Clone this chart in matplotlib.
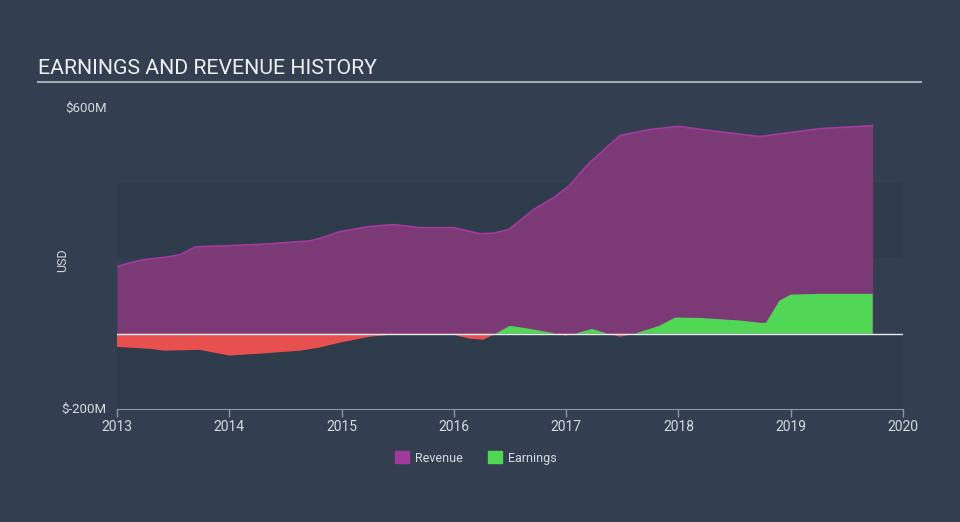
import matplotlib.pyplot as plt
from matplotlib.patches import Patch

plt.rcParams['font.family'] = ['Roboto', 'DejaVu Sans']

# data (year fraction, $M)
rev_x = [2013.0, 2013.12, 2013.25, 2013.47, 2013.56, 2013.7, 2014.0, 2014.36, 2014.72, 2014.8,
         2014.98, 2015.25, 2015.47, 2015.7, 2016.0, 2016.23, 2016.35, 2016.49, 2016.72, 2016.9,
         2017.03, 2017.2, 2017.48, 2017.75, 2018.0, 2018.28, 2018.72, 2019.0, 2019.26, 2019.73]
rev_y = [178, 189, 197, 205, 210, 231, 234, 239, 247, 253,
         271, 285, 290, 282, 282, 266, 267, 277, 332, 364,
         394, 452, 527, 543, 551, 540, 524, 535, 545, 553]

earn_x = [2013.0, 2013.29, 2013.42, 2013.74, 2014.0, 2014.27, 2014.63, 2014.8, 2014.98, 2015.25,
          2015.43, 2015.7, 2016.0, 2016.14, 2016.26, 2016.37, 2016.5, 2016.68, 2016.86, 2016.99,
          2017.08, 2017.23, 2017.37, 2017.48, 2017.61, 2017.83, 2017.97, 2018.2, 2018.55, 2018.73,
          2018.78, 2018.9, 2019.0, 2019.26, 2019.73]
earn_y = [-35, -40, -45, -43, -58, -53, -45, -37, -24, -8,
          -3, -3, -3, -13, -16, 0, 21, 13, 3, -5,
          0, 13, 0, -8, 0, 21, 43, 42, 35, 29,
          29, 88, 104, 106, 106]

years = [2013, 2014, 2015, 2016, 2017, 2018, 2019, 2020]
ytick_vals = [600, -200]
ytick_labels = ["$600M", "$-200M"]

bg = "#333f50"
band = "#2d3b4a"
txt = "#d5dae0"

fig = plt.figure(figsize=(9.6, 5.22), dpi=100, facecolor=bg)
ax = fig.add_axes([0.1219, 0.2165, 0.8187, 0.5766])
ax.set_facecolor(bg)

# alternating bands
ax.axhspan(-200, 0, color=band, zorder=0, lw=0)
ax.axhspan(200, 400, color=band, zorder=0, lw=0)

ax.fill_between(rev_x, 0, rev_y, color="#7b3a76", lw=0, zorder=2)
ax.plot(rev_x, rev_y, color="#a53a9f", lw=1.2, zorder=3)

ax.fill_between(earn_x, 0, earn_y, where=[v >= 0 for v in earn_y], interpolate=True,
                color="#52d656", lw=0, zorder=4)
ax.fill_between(earn_x, 0, earn_y, where=[v <= 0 for v in earn_y], interpolate=True,
                color="#e84f4f", lw=0, zorder=4)

ax.axhline(0, color="#e8ecef", lw=1, zorder=5)

ax.set_xlim(2013, 2020)
ax.set_ylim(-200, 600)
ax.set_xticks(years)
ax.set_xticklabels([str(y) for y in years], fontsize=10)
ax.tick_params(axis="x", colors="#8c97a4", length=6, width=1, labelcolor=txt, pad=2)
ax.set_yticks([])
for s in ["top", "right", "left"]:
    ax.spines[s].set_visible(False)
ax.spines["bottom"].set_color("#8c97a4")

# y labels sit at the top and bottom of the axis
for v, lab in zip(ytick_vals, ytick_labels):
    ax.text(-0.013, (v + 200) / 800, lab, transform=ax.transAxes, color=txt, fontsize=9.5,
            ha="right", va="center")
fig.text(0.065, 1 - 260 / 522, "USD", color=txt, fontsize=9, rotation=90, ha="center", va="center")

fig.text(0.04, 1 - 68 / 522, "EARNINGS AND REVENUE HISTORY", color="#eef1f4", fontsize=15.3,
         ha="left", va="center")
fig.add_artist(plt.Line2D([0.04, 0.959], [1 - 82 / 522, 1 - 82 / 522], color="#a3abb4", lw=1.5))

handles = [Patch(color="#a23a9c", label="Revenue"), Patch(color="#52d656", label="Earnings")]
fig.legend(handles=handles, loc="center", bbox_to_anchor=(0.496, 1 - 458 / 522), ncol=2,
           frameon=False, fontsize=9, labelcolor=txt, handlelength=1.1, handleheight=1.1,
           columnspacing=2.0, handletextpad=0.5)

fig.savefig("out.png", dpi=100, facecolor=bg)
